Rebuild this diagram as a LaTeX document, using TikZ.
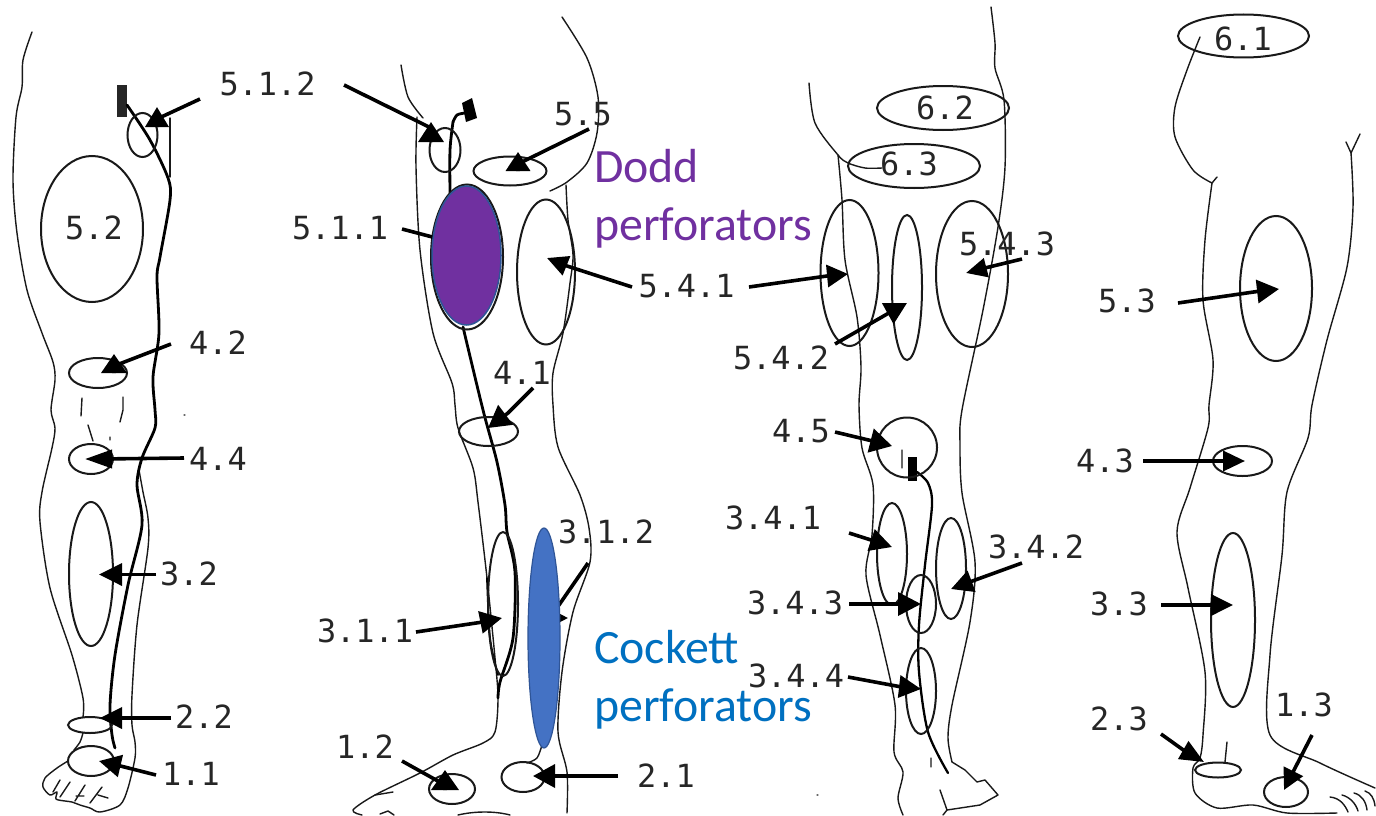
\documentclass[tikz,border=0pt]{standalone}
\usepackage{fontspec}
\setmainfont{Carlito}
\newfontfamily\labfont{DejaVu Sans Mono}
\usetikzlibrary{arrows.meta,shapes.geometric,calc}
\definecolor{doddpurple}{HTML}{7030A0}
\definecolor{cockettblue}{HTML}{0070C0}
\definecolor{fillblue}{HTML}{4472C4}
\definecolor{edgeblue}{HTML}{2F5597}
\tikzset{
  body/.style={draw=black!90,line width=1.4bp,line join=round,line cap=round},
  vein/.style={draw=black,line width=2.8bp,line join=round,line cap=round},
  zone/.style={shape=ellipse,draw=black!90,line width=2bp,inner sep=0pt,fill=none},
  lab/.style={font=\labfont\fontsize{32}{34}\selectfont,text=black!85,inner sep=1pt},
  pointer/.style={draw=black,line width=3.6bp,line join=bevel},
  caption/.style={font=\fontsize{48}{58}\selectfont,align=left,anchor=west,inner sep=0pt},
}
\newcommand{\zonenode}[4]{\node[zone,minimum width=2*#3*1bp,minimum height=2*#4*1bp] (#1) at (#2) {};}
\newcommand{\labnode}[3]{\node[lab] (#1) at (#2) {#3};}
% name, tail, point on head axis, tip, head length, head width
\newcommand{\conn}[6]{%
  \coordinate (#1-tail) at (#2);\coordinate (#1-via) at (#3);\coordinate (#1-tip) at (#4);
  \coordinate (#1-base) at ($(#1-tip)!#5bp+0.2bp!(#1-via)$);
  \draw[pointer,-{Triangle[length=#5bp,width=#6bp]}] (#1-tail) -- (#1-via) -- (#1-base) -- (#1-tip);}
\begin{document}
\begin{tikzpicture}[x=1bp,y=-1bp]
\useasboundingbox (0,0) rectangle (1376,815);
\fill[white] (0,0) rectangle (1376,815);

%%% LEG 1
\draw[body] plot[smooth,tension=.5] coordinates {(32,32)(23,60)(22,87)(16,117)(13,180)(17,233)(27,290)(42,333)(53,362)(55,380)(51,410)(55,428)(52,448)(42,492)(40,522)(50,588)(72,655)(83,698)(83,717)};
\draw[body] plot[smooth,tension=.5] coordinates {(83,733)(80,742)(74,750)};
\draw[body] plot[smooth,tension=.5] coordinates {(68,761)(57,768)(45,778)(43,787)(50,795)(57,792)(56,799)(65,801)(72,802)(80,805)(90,808)(100,812)(120,805)(128,788)(135,758)(135,742)(132,725)(132,695)(137,625)(148,548)(148,518)(143,492)(139,470)};
\draw[body] (170,118) -- (170,177);
\draw[body] (60,780)--(53,792) (70,782)--(60,797) (85,785)--(75,801) (102,787)--(90,803) (98,795)--(108,798) (76,796)--(84,796);
\draw[body] (82,398)--(81,416) (123,397)--(123,410) (123,410)--(120,422) (88,425)--(93,441) (110,437)--(110,440) (184,415)--(185,415);
\fill[black!85] (117,85) rectangle (127,117);
\draw[vein] plot[smooth,tension=.5] coordinates {(127,105)(150,140)(168,178)(170,200)(160,257)(157,277)(159,333)(153,377)(155,410)(155,428)(142,458)(137,485)(142,525)(128,585)(115,655)(110,705)(112,735)(115,748)};

\zonenode{z512a}{142.5,135}{15}{22}
\zonenode{z52}{92,229}{51}{73}
\zonenode{z42}{98,373}{29}{15}
\zonenode{z44}{91,459}{22}{15}
\zonenode{z32}{91,574}{22}{72}
\zonenode{z22}{90,725}{22}{8}
\zonenode{z11}{91,761}{23}{15}

\labnode{l512a}{267.5,84}{5.1.2}
\labnode{l52}{94,227.5}{5.2}
\labnode{l42}{218,343}{4.2}
\labnode{l44}{218,459}{4.4}
\labnode{l32}{189,574}{3.2}
\labnode{l22}{204,717}{2.2}
\labnode{l11}{191,774}{1.1}

\conn{a512a}{200,99}{157,119}{157,107}{20}{23}
\conn{a42}{171,344}{114,366}{114,354}{19}{25}
\conn{a44}{184,458}{100,459}{85,459}{27}{18}
\conn{a32}{156,574.5}{115,574.5}{99,574.5}{23}{22}
\conn{a22}{171,718}{115,718}{100,718}{22}{21}
\conn{a11}{156,775}{120.5,766}{99,761}{22}{22}

%%% LEG 2
\draw[body] plot[smooth,tension=.5] coordinates {(401,65)(408,97)(423,118)};
\draw[body] plot[smooth,tension=.5] coordinates {(417,117)(416,167)(420,250)(433,333)(452,383)(455,405)(458,428)(473,468)(478,502)(487,578)(495,658)(498,698)(495,732)(483,743)(453,755)(420,773)(375,795)(353,810)(362,815)};
\draw[body] plot[smooth,tension=.5] coordinates {(562,17)(587,58)(598,97)(597,133)(587,163)(567,182)(550,191)};
\draw[body] plot[smooth,tension=.5] coordinates {(566,185)(568,220)(573,255)(570,283)(563,333)(553,373)(553,405)(558,447)(580,495)(589,528)(590,562)(573,612)(562,672)(558,732)(567,772)(567,813)};
\draw[body] (375,795)--(393,792) (380,814)--(388,811)--(394,815) (458,815)..controls(475,811)and(495,811)..(510,815);
\draw[vein] plot[smooth,tension=.5] coordinates {(453,122)(450,150)(450,193)};
\draw[vein] plot[smooth,tension=.5] coordinates {(465,113)(457,115)(453,122)};
\fill[black] (462,103) -- (472,98) -- (477,118) -- (466,122) -- cycle;
\draw[vein] plot[smooth,tension=.5] coordinates {(463,327)(483,410)(497,462)(505,505)(507,532)(515,572)(513,638)(500,682)(498,698)};
\draw[vein,line width=1.8bp] plot[smooth,tension=.5] coordinates {(487,578)(490,638)(498,675)};
\draw[body] plot[smooth,tension=.5] coordinates {(542,745)(537,758)(527,763)};

\zonenode{z512b}{445,150}{15.5}{22}
\zonenode{z55}{510,171}{36.5}{14.5}
\zonenode{z511}{467,257}{36}{72.5}
\zonenode{z541a}{546,272}{29}{72.5}
\zonenode{z41}{488.5,431.5}{29.5}{14.5}
\zonenode{z311}{503,604}{15}{72}
\zonenode{z21}{523,777}{21.5}{15}
\zonenode{z12}{452,789}{23}{15}

\labnode{l512b}{340,228}{5.1.1}
\labnode{l55}{583,114}{5.5}
\labnode{l541}{686.5,286}{5.4.1}
\labnode{l41}{522,373}{4.1}
\labnode{l312}{606,532}{3.1.2}
\labnode{l311}{365,631}{3.1.1}
\labnode{l12}{365,747}{1.2}
\labnode{l21}{666,776}{2.1}

\conn{a511}{402,229}{440,239}{455,243}{14}{14}
\conn{a312}{588,563}{550,618}{568,618}{22}{22}
\conn{a512b}{344,85}{431,128}{431,122}{20}{25}
\conn{a55}{589,129}{518,164}{518,152}{19}{24}
\conn{a541a}{632,287}{567,266}{547,258}{21}{20}
\conn{a41}{533,388}{508,413}{488,428}{22}{24}
\conn{a311}{416,632}{479.5,622.5}{502,618}{22}{22}
\conn{a12}{402,761}{445,785}{445,770}{20}{27}
\conn{a21}{618,776}{550,776}{533,776}{22}{23}

\node[shape=ellipse,fill=doddpurple,draw=edgeblue,line width=1.5bp,inner sep=0pt,minimum width=69bp,minimum height=139bp] (dodd) at (466.5,255.5) {};
\node[shape=ellipse,fill=fillblue,draw=edgeblue,line width=1.2bp,inner sep=0pt,minimum width=32bp,minimum height=220bp] (cockett) at (544,638) {};

\node[caption,text=doddpurple] (dcap) at (594,198.5) {Dodd\\perforators};
\node[caption,text=cockettblue] (ccap) at (594,680) {Cockett\\perforators};

%%% LEG 3
\draw[body] plot[smooth,tension=.5] coordinates {(809,83)(815,123)(838,155)(848,163)(865,168)(882,168)};
\draw[body] plot[smooth,tension=.5] coordinates {(838,155)(842,200)(845,260)(857,317)(861,367)(859,405)(862,448)(873,485)(872,535)(866,575)(880,635)(895,705)(894,752)(903,772)(898,798)(903,815)};
\draw[body] plot[smooth,tension=.5] coordinates {(991,7)(995,43)(995,68)(1004,100)(1005,167)(998,227)(983,310)(962,410)(960,445)(962,493)(975,562)(970,622)(952,705)(948,738)(952,762)};
\draw[body] plot[tension=.5] coordinates {(952,762)(965,770)(977,782)(985,780)(998,795)(980,805)(947,810)(940,790)};
\draw[body] (947,810)--(943,815) (902,450)--(902,468) (931,758)--(931,767) (817,795)--(818,795);
\fill[black] (908,457) rectangle (917,481);
\draw[vein,line width=2.3bp] plot[smooth,tension=.5] coordinates {(917,472)(928,483)(932,505)(925,565)(919,625)(919,672)(928,732)(948,773)};

\zonenode{z62}{943,108}{66}{22}
\zonenode{z63}{914,166}{66}{22}
\zonenode{z541b}{849.5,273}{29}{73}
\zonenode{z542}{907,287.5}{15}{72.5}
\zonenode{z543}{972,274}{36}{73}
\zonenode{z45}{907,447.5}{30}{30}
\zonenode{z341}{892,554}{15}{51}
\zonenode{z342}{951,568.5}{15}{50.5}
\zonenode{z343}{921,604}{15}{29}
\zonenode{z344}{921,691}{15}{43}

\labnode{l62}{945,108}{6.2}
\labnode{l63}{909,164}{6.3}
\labnode{l543}{1007,244}{5.4.3}
\labnode{l542}{781,358}{5.4.2}
\labnode{l45}{801,431}{4.5}
\labnode{l341}{773,518}{3.4.1}
\labnode{l342}{1036,547}{3.4.2}
\labnode{l343}{795,603}{3.4.3}
\labnode{l344}{796,676}{3.4.4}

\conn{a541b}{749,287}{827,276}{848,274}{21}{22}
\conn{a542}{835,344}{888,313.5}{907,303}{22}{23}
\conn{a543}{1022,259}{987,267.5}{966,273}{21}{19}
\conn{a45}{835,432}{870.5,440.5}{892,446}{22}{24}
\conn{a341}{849,533}{871,540}{892,547}{22}{22}
\conn{a342}{1022,563}{971,581.5}{951,589}{22}{22}
\conn{a343}{849,604}{902,604}{921,604}{23}{23}
\conn{a344}{848,677}{899,686.5}{921,689}{22}{22}

%%% LEG 4
\draw[body] plot[smooth,tension=.5] coordinates {(1200,37)(1187,70)(1175,107)(1175,137)(1193,170)(1212,183)};
\draw[body] (1212,183)--(1217,177);
\draw[body] plot[smooth,tension=.5] coordinates {(1212,183)(1205,240)(1203,300)(1213,360)(1209,405)(1208,428)(1190,488)(1177,532)(1188,588)(1205,672)(1203,735)(1200,758)(1193,768)(1195,793)(1217,808)(1253,805)(1287,813)(1337,813)};
\draw[body] (1346,142)--(1351,153)--(1360,134);
\draw[body] plot[smooth,tension=.5] coordinates {(1351,153)(1353,207)(1347,267)(1327,340)(1312,405)(1308,438)(1287,492)(1282,555)(1270,655)(1270,735)(1320,763)(1375,788)};
\draw[body] (1227,742)--(1225,762);
\draw[body] (1330,797)..controls(1340,798)and(1345,805)..(1348,812) (1342,795)..controls(1350,797)and(1356,804)..(1358,811) (1354,793)..controls(1362,795)and(1366,802)..(1367,810) (1365,791)..controls(1371,793)and(1374,798)..(1375,806);

\zonenode{z61}{1243.5,36}{65.5}{21.5}
\zonenode{z53}{1276,288.5}{36}{72.5}
\zonenode{z43}{1242.5,461}{29.5}{15}
\zonenode{z33}{1233,620}{22}{87}
\zonenode{z23}{1218,770}{23}{7.5}
\zonenode{z13}{1286,792}{22}{15}

\labnode{l61}{1243,39}{6.1}
\labnode{l53}{1127,301}{5.3}
\labnode{l43}{1105,461}{4.3}
\labnode{l33}{1119,604}{3.3}
\labnode{l23}{1119,719}{2.3}
\labnode{l13}{1304,705}{1.3}

\conn{a53}{1178,303}{1257,291.5}{1279,289}{22}{23}
\conn{a43}{1143,461}{1225,461}{1245,461}{22}{20}
\conn{a33}{1161,605}{1213,605}{1233,605}{22}{21}
\conn{a23}{1161,734}{1184,750.5}{1204,762}{24}{20}
\conn{a13}{1312,735}{1293.5,771}{1284,790}{21}{21}
\end{tikzpicture}
\end{document}
